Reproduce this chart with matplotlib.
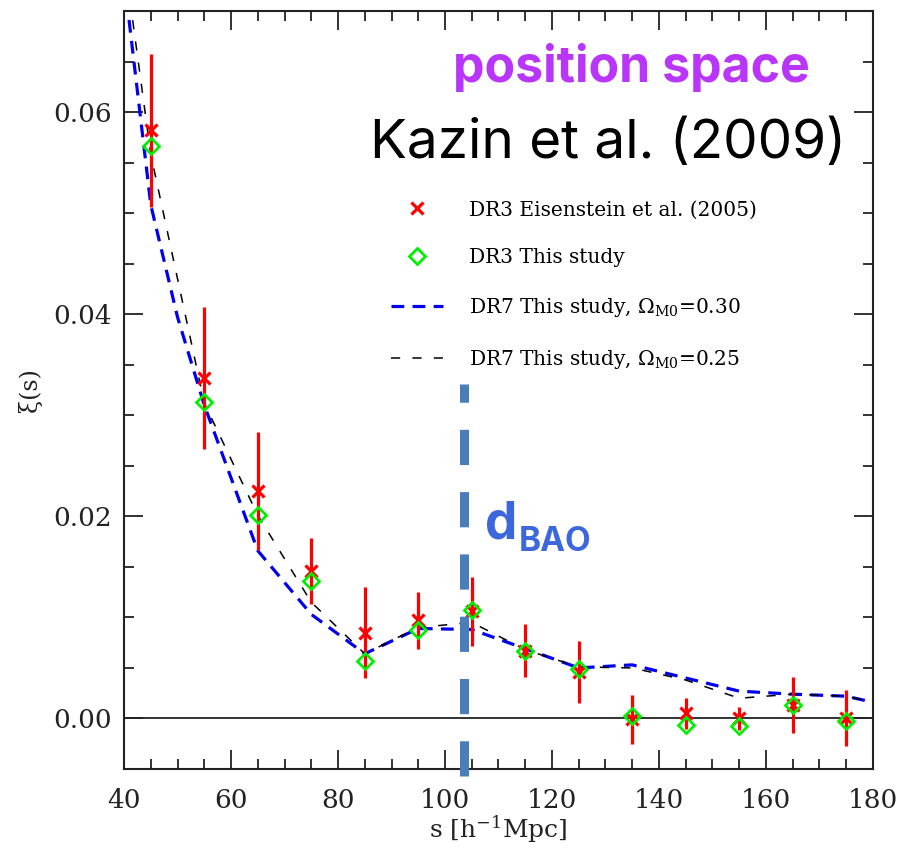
import matplotlib.pyplot as plt
from matplotlib.ticker import MultipleLocator, FormatStrFormatter

# correlation function, DR3 bins
s_bins = [45, 55, 65, 75, 85, 95, 105, 115, 125, 135, 145, 155, 165, 175]
xi_eis = [0.0582, 0.0337, 0.0225, 0.0146, 0.0085, 0.0097, 0.0106, 0.0067,
          0.0046, -0.0001, 0.0005, 0.0000, 0.00135, 0.00005]
err_eis = [0.0076, 0.0070, 0.0058, 0.0033, 0.0045, 0.0028, 0.0034, 0.0026,
           0.0031, 0.0024, 0.0015, 0.00115, 0.00275, 0.00275]
xi_dr3 = [0.0566, 0.0313, 0.0201, 0.0136, 0.0057, 0.0088, 0.0107, 0.0067,
          0.0049, 0.0002, -0.0006, -0.0007, 0.0013, -0.0003]

# DR7 curves
s_dr7_30 = [35, 45, 50, 55, 65, 75, 85, 95, 105, 115, 125, 135, 145, 155, 165, 175, 185]
xi_dr7_30 = [0.0958, 0.0508, 0.0397, 0.0310, 0.0166, 0.0103, 0.0064, 0.0089, 0.0088,
             0.0069, 0.0050, 0.0053, 0.0040, 0.0027, 0.0024, 0.0022, 0.0010]
s_dr7_25 = [35, 45, 55, 65, 75, 85, 95, 105, 115, 125, 135, 145, 155, 165, 175, 185]
xi_dr7_25 = [0.0950, 0.0558, 0.0312, 0.0201, 0.0115, 0.0064, 0.0090, 0.0095, 0.0068,
             0.0051, 0.0050, 0.0038, 0.0020, 0.0024, 0.0022, 0.0010]

d_bao = 103.6

plt.rcParams['font.family'] = 'DejaVu Serif'
plt.rcParams['mathtext.fontset'] = 'dejavuserif'
sans = ['Inter', 'Open Sans', 'DejaVu Sans']

fig = plt.figure(figsize=(8.99, 8.51), dpi=100)
ax = fig.add_axes([0.138, 0.0964, 0.833, 0.8906])

ax.axhline(0, color='#222222', lw=1.3, zorder=1)

ax.plot(s_dr7_30, xi_dr7_30, color='#0000ee', lw=2.3, dashes=(4, 2.6),
        label=r'DR7 This study, $\Omega_{\rm M0}$=0.30', zorder=2)
ax.plot(s_dr7_25, xi_dr7_25, color='black', lw=1.1, dashes=(6, 8),
        label=r'DR7 This study, $\Omega_{\rm M0}$=0.25', zorder=2)

ax.errorbar(s_bins, xi_eis, yerr=err_eis, fmt='none', ecolor='#ff0000',
            elinewidth=2.3, capsize=0, zorder=3)
ax.plot(s_bins, xi_eis, 'x', color='#ff0000', ms=9, mew=2.3, ls='none',
        label='DR3 Eisenstein et al. (2005)', zorder=4)
ax.plot(s_bins, xi_dr3, 'D', mfc='none', mec='#00ee00', ms=8, mew=2,
        ls='none', label='DR3 This study', zorder=5)

# BAO scale marker
ax.plot([d_bao, d_bao], [-0.0057, 0.0331], color='#4a7ebb', lw=6.5,
        dashes=(3.9, 3.0), solid_capstyle='butt', dash_capstyle='butt',
        clip_on=False, zorder=6)
ax.text(d_bao + 3.9, 0.0178, 'd', color='#3d68dc', fontsize=37,
        fontweight='bold', family=sans, va='baseline', ha='left')
ax.text(d_bao + 10.2, 0.0166, 'BAO', color='#3d68dc', fontsize=24,
        fontweight='bold', family=sans, va='baseline', ha='left')

ax.text(0.678, 0.925, 'position space', transform=ax.transAxes,
        color='#b935fa', fontsize=36, fontweight='bold', family=sans,
        ha='center', va='center')
ax.text(0.646, 0.825, 'Kazin et al. (2009)', transform=ax.transAxes,
        color='black', fontsize=39.5, family=sans,
        ha='center', va='center')

ax.set_xlim(40, 180)
ax.set_ylim(-0.005, 0.070)
ax.xaxis.set_major_locator(MultipleLocator(20))
ax.xaxis.set_minor_locator(MultipleLocator(5))
ax.yaxis.set_major_locator(MultipleLocator(0.02))
ax.yaxis.set_minor_locator(MultipleLocator(0.005))
ax.yaxis.set_major_formatter(FormatStrFormatter('%.2f'))

ax.tick_params(which='both', direction='in', top=True, right=True,
               colors='#222222', labelsize=19, width=1.3)
ax.tick_params(which='major', length=14)
ax.tick_params(which='minor', length=7)
ax.tick_params(axis='x', pad=14)
ax.tick_params(axis='y', pad=9)
for sp in ax.spines.values():
    sp.set_linewidth(1.5)
    sp.set_color('#222222')

ax.set_xlabel(r's [h$^{-1}$Mpc]', fontsize=18, color='#222222', labelpad=0)
ax.set_ylabel('ξ(s)', fontsize=17, color='#222222', labelpad=8)

handles, labels = ax.get_legend_handles_labels()
order = [2, 3, 0, 1]
ax.legend([handles[i] for i in order], [labels[i] for i in order],
          loc='upper left', bbox_to_anchor=(0.357, 0.750), frameon=False,
          fontsize=14.5, numpoints=1, handlelength=2.55, handletextpad=1.3,
          labelspacing=1.43, borderpad=0, borderaxespad=0)

fig.savefig('out.png', dpi=100)
